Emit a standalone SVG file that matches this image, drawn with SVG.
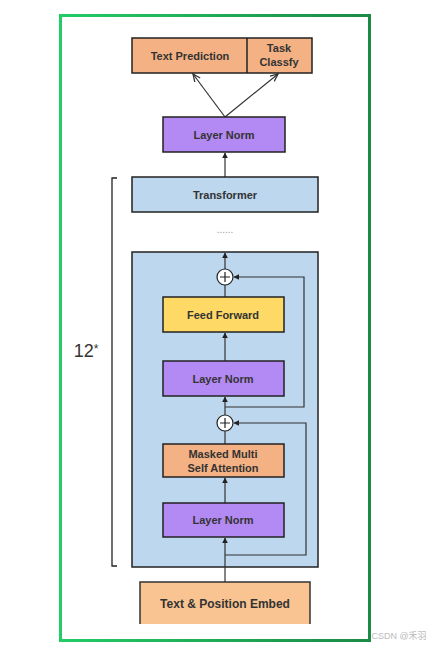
<svg xmlns="http://www.w3.org/2000/svg" width="429" height="649" viewBox="0 0 429 649">
<defs>
<linearGradient id="gb" x1="0" y1="0" x2="1" y2="0">
<stop offset="0" stop-color="#22cc66"/><stop offset="1" stop-color="#1b8a45"/>
</linearGradient>
<marker id="af" viewBox="0 0 10 10" refX="9" refY="5" markerWidth="5" markerHeight="5" orient="auto-start-reverse">
<path d="M0,0 L10,5 L0,10 z" fill="#222"/>
</marker>
<marker id="ao" viewBox="0 0 10 10" refX="9" refY="5" markerWidth="7" markerHeight="7" orient="auto">
<path d="M0,1 L9,5 L0,9" fill="none" stroke="#333" stroke-width="1.5"/>
</marker>
</defs>
<style>
.t{font-family:"Liberation Sans",Arial,sans-serif;font-size:11px;font-weight:bold;fill:#333;text-anchor:middle}
.bx{stroke:#222;stroke-width:1.5}
.ln{stroke:#333;stroke-width:1.2;fill:none}
.or{fill:#f4b183}
.pu{fill:#b38af3}
.bl{fill:#bdd7ee}
.ye{fill:#ffd966}
</style>
<rect x="0" y="0" width="429" height="649" fill="#fff"/>
<rect x="60.5" y="15.5" width="309" height="625" fill="none" stroke="url(#gb)" stroke-width="3"/>

<g id="block">
<rect class="bx bl" x="132" y="252" width="186" height="315"/>
</g>

<g id="edges">
<line class="ln" x1="225" y1="117" x2="193" y2="74" marker-end="url(#ao)"/>
<line class="ln" x1="225" y1="117" x2="278" y2="74" marker-end="url(#ao)"/>
<line class="ln" x1="225" y1="177" x2="225" y2="153" marker-end="url(#af)"/>
<line class="ln" x1="225" y1="269" x2="225" y2="253" marker-end="url(#af)"/>
<line class="ln" x1="225" y1="297" x2="225" y2="285"/>
<polyline class="ln" points="225,407 304,407 304,277 234,277" marker-end="url(#af)"/>
<line class="ln" x1="225" y1="361" x2="225" y2="333" marker-end="url(#af)"/>
<line class="ln" x1="225" y1="415" x2="225" y2="397" marker-end="url(#af)"/>
<line class="ln" x1="225" y1="444" x2="225" y2="431"/>
<polyline class="ln" points="225,555 306,555 306,423 234,423" marker-end="url(#af)"/>
<line class="ln" x1="225" y1="503" x2="225" y2="478" marker-end="url(#af)"/>
<line class="ln" x1="225" y1="582" x2="225" y2="538" marker-end="url(#af)"/>
</g>

<g id="bracket">
<polyline points="117,178 112,178 112,566 117,566" fill="none" stroke="#222" stroke-width="1.3"/>
<text x="86" y="357" font-family="Liberation Sans,Arial,sans-serif" font-size="18" fill="#333" text-anchor="middle">12<tspan font-size="12" dy="-4">*</tspan></text>
</g>

<g id="heads">
<rect class="bx or" x="132" y="38" width="180" height="35"/>
<line x1="247" y1="38" x2="247" y2="73" stroke="#222" stroke-width="1.5"/>
<text class="t" x="190" y="59.5">Text Prediction</text>
<text class="t" x="279" y="52">Task</text>
<text class="t" x="279" y="66">Classfy</text>
</g>

<g id="layernorm-top">
<rect class="bx pu" x="163" y="117" width="122" height="35"/>
<text class="t" x="224" y="138.5">Layer Norm</text>
</g>

<g id="transformer">
<rect class="bx bl" x="132" y="177" width="186" height="35"/>
<text class="t" x="225" y="198.5">Transformer</text>
</g>

<text x="225" y="233" font-family="Liberation Sans,Arial,sans-serif" font-size="10" fill="#999" text-anchor="middle">......</text>

<g id="plus1">
<circle cx="225" cy="277" r="8" fill="#fff" stroke="#222" stroke-width="1.2"/>
<path d="M220,277 H230 M225,272 V282" stroke="#222" stroke-width="1.2"/>
</g>

<g id="feedforward">
<rect class="bx ye" x="163" y="297" width="121" height="35"/>
<text class="t" x="223" y="318.5">Feed Forward</text>
</g>

<g id="layernorm2">
<rect class="bx pu" x="163" y="361" width="121" height="35"/>
<text class="t" x="223" y="382.5">Layer Norm</text>
</g>

<g id="plus2">
<circle cx="225" cy="423" r="8" fill="#fff" stroke="#222" stroke-width="1.2"/>
<path d="M220,423 H230 M225,418 V428" stroke="#222" stroke-width="1.2"/>
</g>

<g id="attention">
<rect class="bx or" x="163" y="444" width="121" height="33"/>
<text class="t" x="223" y="458">Masked Multi</text>
<text class="t" x="223" y="472">Self Attention</text>
</g>

<g id="layernorm1">
<rect class="bx pu" x="163" y="503" width="121" height="34"/>
<text class="t" x="223" y="524">Layer Norm</text>
</g>

<g id="embed">
<rect x="140" y="582" width="170" height="42" fill="#f9c491"/>
<polyline points="140,624 140,582 310,582 310,624" fill="none" stroke="#333" stroke-width="1.5"/>
<text class="t" x="225" y="608" style="font-size:12px">Text &amp; Position Embed</text>
</g>

<text x="399" y="639" font-family="Liberation Sans,'Noto Sans CJK SC',sans-serif" font-size="9" fill="#bbb" text-anchor="middle">CSDN @禾羽</text>
</svg>
